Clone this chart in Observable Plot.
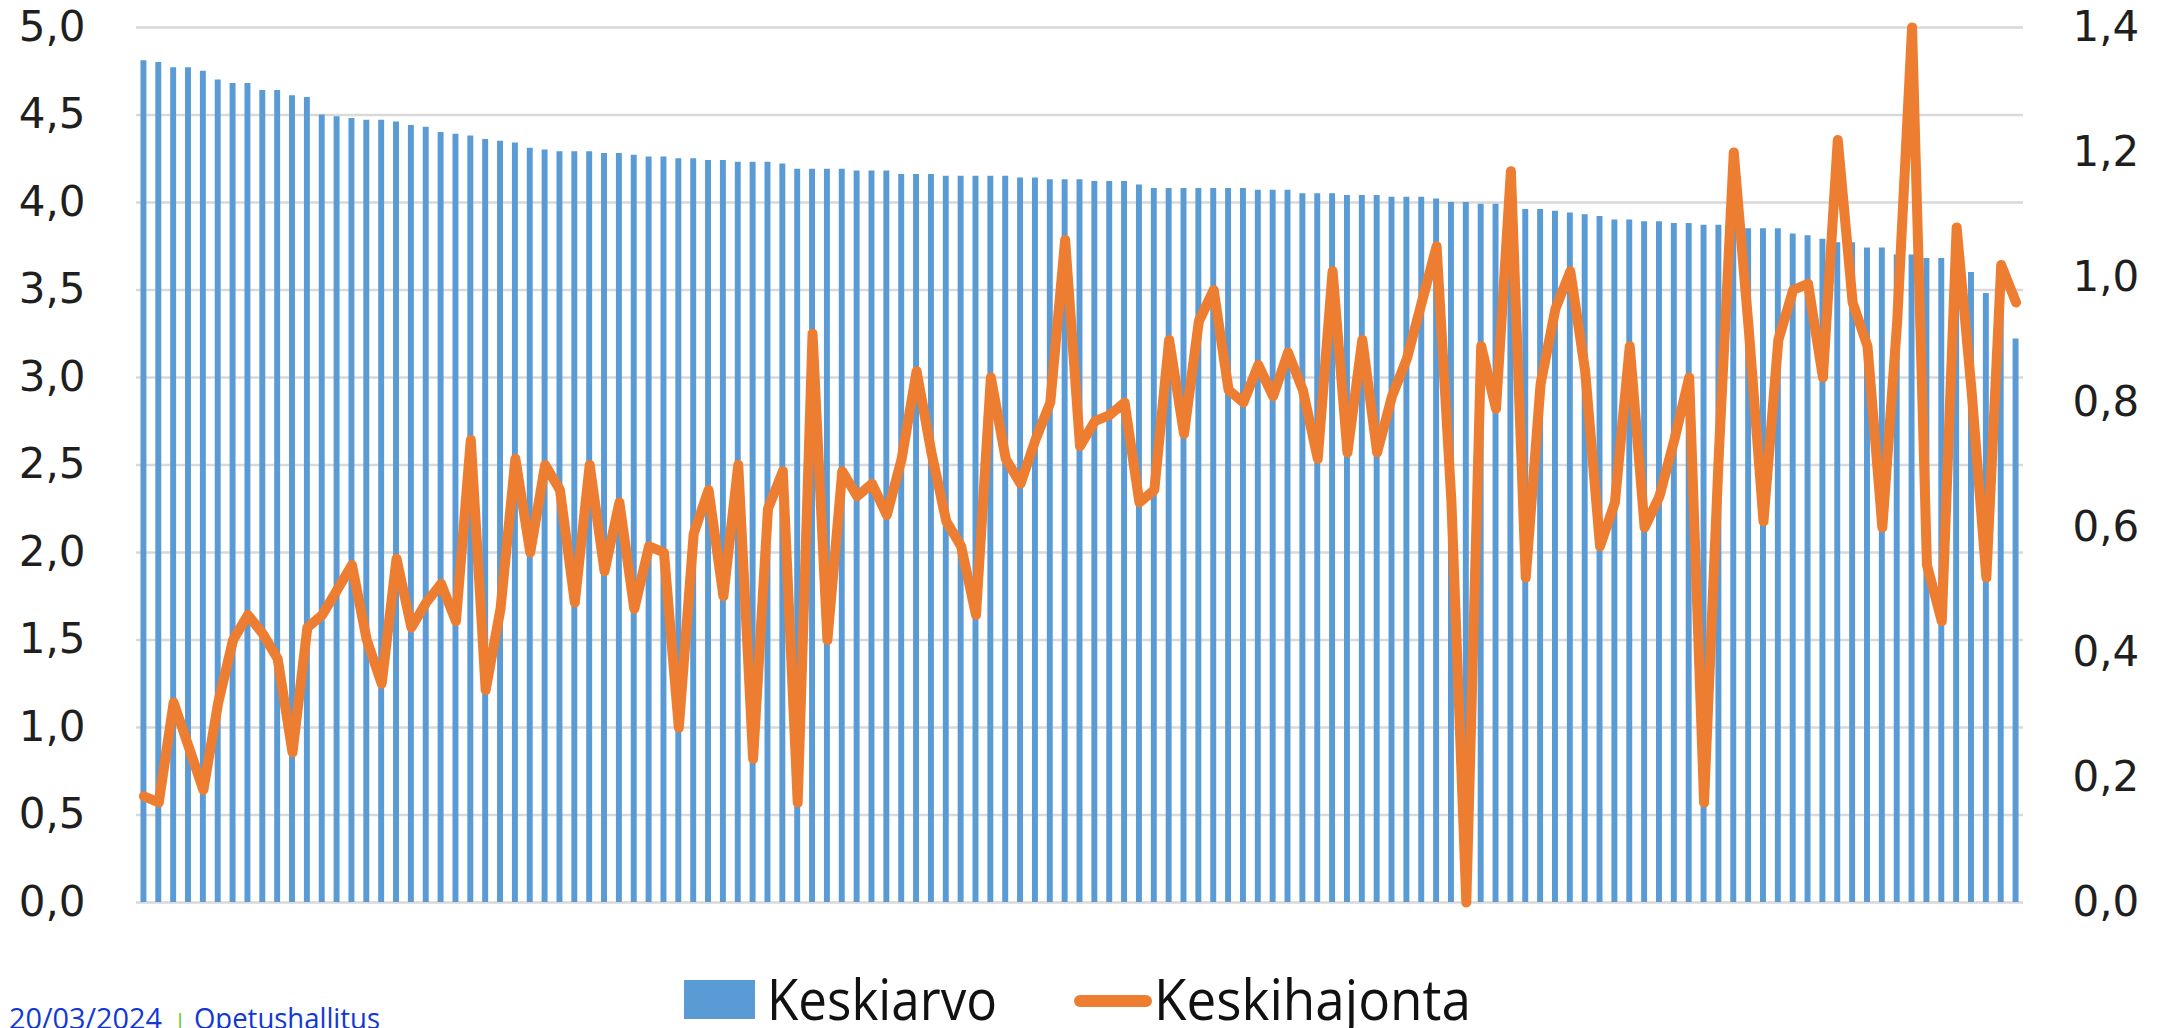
<!DOCTYPE html>
<html>
<head>
<meta charset="utf-8">
<script src="https://cdn.jsdelivr.net/npm/d3@7"></script>
<script src="https://cdn.jsdelivr.net/npm/@observablehq/plot@0.6"></script>
<style>
  html, body { margin: 0; padding: 0; background: #fff; }
  #wrap { position: relative; width: 2159px; height: 1028px; overflow: hidden; background: #fff; }
  #chart { position: absolute; left: 0; top: 0; }
  #legend { position: absolute; left: 0; top: 940px; }
</style>
</head>
<body>
<div id="wrap">
  <div id="chart"></div>
  <svg id="legend" width="2159" height="88"></svg>
</div>
<script>
// Keskiarvo (left axis 0–5), one value per item, sorted descending
const keskiarvo = [
  4.81, 4.80, 4.77, 4.77, 4.75, 4.70, 4.68, 4.68, 4.64, 4.64, 4.61, 4.60, 4.50, 4.49, 4.48, 4.47, 4.47, 4.46, 4.44, 4.43, 4.40, 4.39,
  4.38, 4.36, 4.35, 4.34, 4.31, 4.30, 4.29, 4.29, 4.29, 4.28, 4.28, 4.27, 4.26, 4.26, 4.25, 4.25, 4.24, 4.24, 4.23, 4.23, 4.23, 4.22,
  4.19, 4.19, 4.19, 4.19, 4.18, 4.18, 4.18, 4.16, 4.16, 4.16, 4.15, 4.15, 4.15, 4.15, 4.15, 4.14, 4.14, 4.13, 4.13, 4.13, 4.12,
  4.12, 4.12, 4.10, 4.08, 4.08, 4.08, 4.08, 4.08, 4.08, 4.08, 4.07, 4.07, 4.07, 4.05, 4.05, 4.05, 4.04, 4.04, 4.04, 4.03, 4.03, 4.03,
  4.02, 4.00, 4.00, 3.99, 3.99, 3.98, 3.96, 3.96, 3.95, 3.94, 3.93, 3.92, 3.90, 3.90, 3.89, 3.89, 3.88, 3.88, 3.87, 3.87, 3.86,
  3.85, 3.85, 3.85, 3.82, 3.81, 3.79, 3.77, 3.77, 3.74, 3.74, 3.70, 3.70, 3.68, 3.68, 3.67, 3.60, 3.48, 3.40, 3.22
];
// Keskihajonta (right axis 0–1,4)
const keskihajonta = [
  0.17, 0.16, 0.32, 0.25, 0.18, 0.32, 0.42, 0.46, 0.43, 0.39, 0.24, 0.44, 0.46, 0.50, 0.54, 0.42, 0.35, 0.55, 0.44, 0.48, 0.51, 0.45,
  0.74, 0.34, 0.47, 0.71, 0.56, 0.70, 0.66, 0.48, 0.70, 0.53, 0.64, 0.47, 0.57, 0.56, 0.28, 0.59, 0.66, 0.49, 0.70, 0.23, 0.63, 0.69,
  0.16, 0.91, 0.42, 0.69, 0.65, 0.67, 0.62, 0.71, 0.85, 0.72, 0.61, 0.57, 0.46, 0.84, 0.71, 0.67, 0.74, 0.80, 1.06, 0.73, 0.77,
  0.78, 0.80, 0.64, 0.66, 0.90, 0.75, 0.93, 0.98, 0.82, 0.80, 0.86, 0.81, 0.88, 0.82, 0.71, 1.01, 0.72, 0.90, 0.72, 0.81, 0.87, 0.96,
  1.05, 0.64, 0.00, 0.89, 0.79, 1.17, 0.52, 0.83, 0.95, 1.01, 0.85, 0.57, 0.64, 0.89, 0.60, 0.65, 0.74, 0.84, 0.16, 0.72, 1.20,
  0.92, 0.61, 0.90, 0.98, 0.99, 0.84, 1.22, 0.96, 0.89, 0.60, 0.93, 1.40, 0.54, 0.45, 1.08, 0.82, 0.52, 1.02, 0.96
];
const leftTicks = [0, 0.5, 1, 1.5, 2, 2.5, 3, 3.5, 4, 4.5, 5];
const rightTicks = [0, 0.2, 0.4, 0.6, 0.8, 1.0, 1.2, 1.4];
const leftMax = 5, rightMax = 1.4;
const seriesNames = ["Keskiarvo", "Keskihajonta"];
const footerDate = "20/03/2024";
const footerOrg = "Opetushallitus";

const colors = {bar: "#5B9BD5", line: "#ED7D31", grid: "#D9D9D9", text: "#1f1f1f"};
const k = leftMax / rightMax;
const data = keskiarvo.map((v, i) => ({i, mean: v, sd: keskihajonta[i]}));
const fmt = v => v.toFixed(1).replace(".", ",");

const chart = Plot.plot({
  width: 2159,
  height: 940,
  marginLeft: 136,
  marginRight: 136,
  marginTop: 27,
  marginBottom: 38,
  style: {fontFamily: "DejaVu Sans", fontSize: "42px", color: colors.text, background: "#fff"},
  x: {type: "band", domain: data.map(d => d.i), paddingInner: 0.6, paddingOuter: 0.3, axis: null},
  y: {domain: [0, leftMax], axis: null},
  marks: [
    Plot.gridY(leftTicks, {stroke: colors.grid, strokeOpacity: 1, strokeWidth: 2.5}),
    Plot.barY(data, {x: "i", y: "mean", fill: colors.bar}),
    Plot.line(data, {x: "i", y: d => d.sd * k, stroke: colors.line, strokeWidth: 10, strokeLinejoin: "round", strokeLinecap: "round"}),
    Plot.axisY({anchor: "left", ticks: leftTicks, tickSize: 0, tickPadding: 51, tickFormat: fmt, fontSize: 42, label: null}),
    Plot.axisY({anchor: "right", ticks: rightTicks.map(v => v * k), tickSize: 0, tickPadding: 49, tickFormat: v => fmt(v / k), fontSize: 42, label: null})
  ]
});
document.getElementById("chart").appendChild(chart);

// Legend and footer
const lg = d3.select("#legend");
lg.append("rect").attr("x", 684).attr("y", 40).attr("width", 71).attr("height", 39).attr("fill", colors.bar);
lg.append("text").attr("x", 767).attr("y", 80).attr("font-family", "Open Sans").attr("font-size", 56)
  .attr("fill", "#111").attr("textLength", 230).attr("lengthAdjust", "spacingAndGlyphs").text(seriesNames[0]);
lg.append("line").attr("x1", 1080).attr("x2", 1146).attr("y1", 61).attr("y2", 61)
  .attr("stroke", colors.line).attr("stroke-width", 12).attr("stroke-linecap", "round");
lg.append("text").attr("x", 1154).attr("y", 80).attr("font-family", "Open Sans").attr("font-size", 56)
  .attr("fill", "#111").attr("textLength", 317).attr("lengthAdjust", "spacingAndGlyphs").text(seriesNames[1]);
const ft = lg.append("text").attr("x", 9).attr("y", 89).attr("font-family", "Open Sans").attr("font-size", 30);
ft.append("tspan").attr("fill", "#1238d6").attr("textLength", 153).attr("lengthAdjust", "spacingAndGlyphs").text(footerDate);
ft.append("tspan").attr("x", 174).attr("fill", "#5fc31c").attr("font-size", 22).text("|");
ft.append("tspan").attr("x", 194).attr("fill", "#1238d6").attr("textLength", 186).attr("lengthAdjust", "spacingAndGlyphs").text(footerOrg);
</script>
</body>
</html>
